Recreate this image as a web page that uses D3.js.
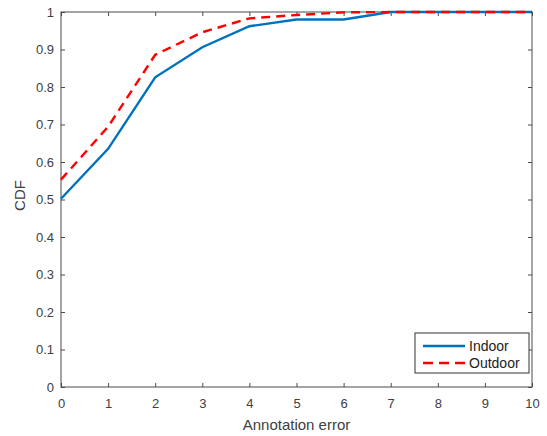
<!DOCTYPE html>
<html><head><meta charset="utf-8">
<script src="https://cdn.jsdelivr.net/npm/d3@7"></script>
<style>body{margin:0;background:#fff;} svg{display:block;font-family:"Liberation Sans",Arial,sans-serif;}</style>
</head><body>
<script>
const xValues = [0,1,2,3,4,5,6,7,8,9,10];
const indoor  = [0.502,0.635,0.826,0.906,0.962,0.980,0.980,1,1,1,1];
const outdoor = [0.553,0.694,0.886,0.946,0.983,0.992,0.999,1,1,1,1];
const xTicks = [0,1,2,3,4,5,6,7,8,9,10];
const yTicks = [0,0.1,0.2,0.3,0.4,0.5,0.6,0.7,0.8,0.9,1];
const seriesNames = ["Indoor","Outdoor"];

const W=547,H=436;
const m={l:61,r:15,t:12,b:49};
const svg=d3.select("body").append("svg").attr("width",W).attr("height",H);
const x=d3.scaleLinear().domain([0,10]).range([m.l,W-m.r]);
const y=d3.scaleLinear().domain([0,1]).range([H-m.b,m.t]);
const axCol="#4a4a4a", txtCol="#404040";

const g=svg.append("g");
function styleAxis(sel,showText){
  sel.select(".domain").remove();
  sel.selectAll("line").attr("stroke",axCol);
  sel.selectAll("text").attr("fill",txtCol).style("font-size","13px");
  if(!showText) sel.selectAll("text").remove();
}
g.append("g").attr("transform",`translate(0,${y(0)})`)
 .call(d3.axisBottom(x).tickValues(xTicks).tickFormat(d3.format("d")).tickSizeInner(-4).tickSizeOuter(0).tickPadding(12))
 .call(s=>styleAxis(s,true));
g.append("g").attr("transform",`translate(0,${y(1)})`)
 .call(d3.axisTop(x).tickValues(xTicks).tickSizeInner(-4).tickSizeOuter(0))
 .call(s=>styleAxis(s,false));
g.append("g").attr("transform",`translate(${x(0)},0)`)
 .call(d3.axisLeft(y).tickValues(yTicks).tickFormat(d=>d===0?"0":d===1?"1":d3.format(".1f")(d)).tickSizeInner(-4).tickSizeOuter(0).tickPadding(7))
 .call(s=>styleAxis(s,true));
g.append("g").attr("transform",`translate(${x(10)},0)`)
 .call(d3.axisRight(y).tickValues(yTicks).tickSizeInner(-4).tickSizeOuter(0))
 .call(s=>styleAxis(s,false));
svg.append("rect").attr("x",x(0)).attr("y",y(1)).attr("width",x(10)-x(0)).attr("height",y(0)-y(1))
 .attr("fill","none").attr("stroke",axCol).attr("stroke-width",1);

const line=d3.line().x((d,i)=>x(xValues[i])).y(d=>y(d));
svg.append("path").datum(indoor).attr("d",line).attr("fill","none").attr("stroke","#0072BD").attr("stroke-width",2.4);
svg.append("path").datum(outdoor).attr("d",line).attr("fill","none").attr("stroke","#FF0000").attr("stroke-width",2.4).attr("stroke-dasharray","9,6");

svg.append("text").attr("x",(x(0)+x(10))/2).attr("y",430).attr("text-anchor","middle").attr("fill",txtCol).style("font-size","15px").text("Annotation error");
svg.append("text").attr("transform",`translate(25,${(y(0)+y(1))/2 - 4}) rotate(-90)`).attr("text-anchor","middle").attr("fill",txtCol).style("font-size","15px").text("CDF");

const lg=svg.append("g").attr("transform","translate(415,333)");
lg.append("rect").attr("width",114).attr("height",40).attr("fill","#fff").attr("stroke","#333").attr("stroke-width",1);
const styles=[{c:"#0072BD",d:null},{c:"#FF0000",d:"10,6"}];
seriesNames.forEach((n,i)=>{
  const yy=13+i*17;
  lg.append("line").attr("x1",8).attr("x2",50).attr("y1",yy).attr("y2",yy).attr("stroke",styles[i].c).attr("stroke-width",2.4).attr("stroke-dasharray",styles[i].d);
  lg.append("text").attr("x",54).attr("y",yy+5).attr("fill","#222").style("font-size","14px").text(n);
});
</script>
</body></html>
